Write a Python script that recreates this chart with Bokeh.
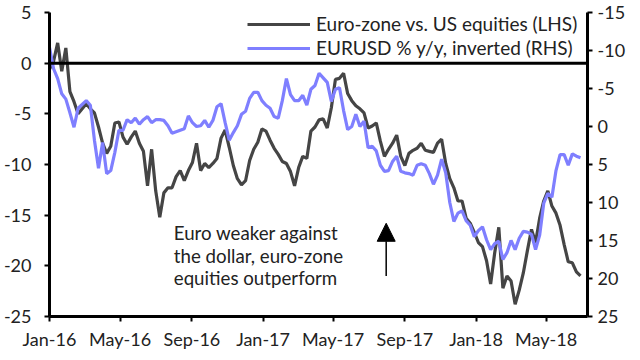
import pandas as pd
from bokeh.plotting import figure
from bokeh.models import (Range1d, LinearAxis, FixedTicker, Legend, LegendItem,
                          Arrow, NormalHead, Span)
from bokeh.core.properties import value
from bokeh.embed import file_html
from bokeh.resources import INLINE

FONT = "Lato"

# ---- data (weekly, starting 1 Jan 2016) ----
start_date = "2016-01-01"
equities_lhs = [
    -0.6, 0.2, 2.0, -0.8, 1.5, -2.8, -3.8, -5.0, -4.5, -4.0,
    -4.5, -4.9, -6.3, -7.9, -8.9, -8.2, -5.9, -5.8, -7.3, -8.0,
    -7.3, -6.7, -7.9, -8.7, -12.1, -8.5, -12.6, -15.2, -12.8, -12.3,
    -12.3, -11.2, -10.6, -11.6, -10.6, -9.8, -7.9, -10.6, -9.9, -10.3,
    -9.9, -9.4, -7.4, -6.6, -8.3, -10.1, -11.4, -12.0, -11.6, -9.6,
    -8.5, -7.8, -6.5, -6.7, -7.6, -8.4, -9.0, -9.7, -9.9, -10.7,
    -12.1, -10.3, -9.2, -9.4, -6.7, -6.3, -5.6, -5.5, -6.4, -4.4,
    -1.6, -1.5, -1.0, -3.0, -3.7, -4.2, -4.5, -4.9, -6.4, -6.2,
    -5.9, -7.7, -9.2, -8.5, -7.9, -7.1, -9.2, -10.1, -8.9, -8.6,
    -8.4, -7.9, -8.6, -8.7, -8.8, -7.9, -7.5, -9.9, -11.4, -12.3,
    -13.6, -13.6, -15.3, -15.8, -16.7, -17.7, -18.1, -19.5, -21.8, -18.7,
    -16.2, -22.2, -21.0, -21.5, -23.8, -22.4, -20.7, -18.5, -16.4, -17.7,
    -15.3, -13.6, -12.6, -14.1, -14.8, -16.0, -17.9, -19.6, -19.7, -20.6,
    -21.0,
]
eurusd_inv_rhs = [
    -10.4, -7.6, -6.3, -4.3, -3.6, -1.8, 0.1, -2.4, -2.9, -3.4,
    -2.8, 1.8, 5.5, 2.1, 6.2, 5.8, 3.4, 0.5, 0.5, -0.9,
    -0.5, -1.1, -0.3, -0.9, -1.3, -0.5, -0.9, -0.9, -0.8, -0.1,
    0.9, 0.7, 0.5, 0.3, -1.4, -0.5, 0.0, -0.1, -0.8, 0.1,
    -0.8, -2.6, -3.0, -0.5, 1.8, 0.8, -0.1, -1.6, -2.0, -3.7,
    -4.5, -4.5, -3.4, -2.8, -2.4, -1.3, -1.1, -3.4, -6.3, -4.2,
    -3.4, -3.4, -4.1, -2.8, -4.9, -5.4, -7.0, -6.4, -5.8, -3.3,
    -4.9, -5.1, -2.1, 0.4, 0.0, -1.6, 0.0, -0.7, 2.8, 2.6,
    3.2, 5.1, 5.9, 5.8, 4.6, 3.9, 5.9, 6.1, 6.2, 6.4,
    5.1, 4.9, 5.1, 6.2, 7.6, 6.4, 4.3, 6.1, 10.0, 12.5,
    11.4, 11.1, 12.4, 13.0, 14.5, 13.7, 13.2, 14.9, 16.2, 15.4,
    15.1, 17.5, 16.6, 15.0, 16.2, 14.7, 13.8, 13.9, 14.2, 16.2,
    14.3, 10.1, 8.8, 9.3, 5.8, 3.7, 3.7, 5.1, 3.6, 3.9,
    4.1,
]
series_labels = ["Euro-zone vs. US equities (LHS)", "EURUSD % y/y, inverted (RHS)"]

x_start, x_end = "2016-01-01", "2018-07-11"
x_tick_dates = ["2016-01-01", "2016-05-01", "2016-09-01", "2017-01-01",
                "2017-05-01", "2017-09-01", "2018-01-01", "2018-05-01"]
x_tick_labels = ["Jan-16", "May-16", "Sep-16", "Jan-17", "May-17", "Sep-17",
                 "Jan-18", "May-18"]
lhs_ticks = [-25, -20, -15, -10, -5, 0, 5]
rhs_ticks = [-15, -10, -5, 0, 5, 10, 15, 20, 25]

annotation_lines = ["Euro weaker against", "the dollar, euro-zone",
                    "equities outperform"]
annotation_x = "2016-08-01"
annotation_y = [-16.8, -19.0, -21.2]
arrow_x = "2017-07-31"
arrow_from, arrow_to = -21.0, -15.8

# ---- figure ----
dates = pd.date_range(start_date, periods=len(equities_lhs), freq="7D")

p = figure(width=640, height=360, x_axis_type="datetime",
           x_range=Range1d(pd.Timestamp(x_start), pd.Timestamp(x_end)),
           y_range=Range1d(-25, 5),
           output_backend="svg", toolbar_location=None,
           min_border_left=47, min_border_right=53,
           min_border_top=12, min_border_bottom=44)
p.extra_y_ranges = {"rhs": Range1d(25, -15)}
p.outline_line_color = None
p.xgrid.visible = False
p.ygrid.visible = False
p.background_fill_color = "white"

def ms(d):
    return pd.Timestamp(d).value // 10**6

tick_ms = [ms(d) for d in x_tick_dates]

def style_axis(ax, standoff):
    ax.axis_line_color = "black"
    ax.axis_line_width = 3
    ax.major_tick_line_color = "black"
    ax.major_tick_line_width = 2
    ax.major_tick_out = 5
    ax.major_tick_in = 0
    ax.minor_tick_line_color = None
    ax.major_label_text_font = FONT
    ax.major_label_text_font_size = "18px"
    ax.major_label_text_color = "#222222"
    ax.major_label_standoff = standoff

xa = p.xaxis[0]
xa.ticker = FixedTicker(ticks=tick_ms)
xa.major_label_overrides = {t: l for t, l in zip(tick_ms, x_tick_labels)}
style_axis(xa, 6)

ya = p.yaxis[0]
ya.ticker = FixedTicker(ticks=lhs_ticks)
ya.major_label_overrides = {t: str(t) for t in lhs_ticks}
style_axis(ya, 13)

ra = LinearAxis(y_range_name="rhs", ticker=FixedTicker(ticks=rhs_ticks))
ra.major_label_overrides = {t: str(t) for t in rhs_ticks}
style_axis(ra, 5)
p.add_layout(ra, "right")

p.add_layout(Span(location=0, dimension="width", line_color="black",
                  line_width=3))

r_eq = p.line(dates, equities_lhs, line_color="#454545", line_width=3.2)
r_fx = p.line(dates, eurusd_inv_rhs, line_color="#7f7fff", line_width=3.2,
              y_range_name="rhs")

legend = Legend(items=[LegendItem(label=series_labels[0], renderers=[r_eq]),
                       LegendItem(label=series_labels[1], renderers=[r_fx])],
                location=(198, 257))
legend.border_line_color = None
legend.background_fill_alpha = 0
legend.padding = 0
legend.margin = 0
legend.spacing = 1
legend.glyph_width = 63
legend.glyph_height = 22
legend.label_height = 22
legend.label_standoff = 6
legend.label_text_font = FONT
legend.label_text_font_size = "19px"
legend.label_text_color = "#222222"
p.add_layout(legend)

p.text(x=[pd.Timestamp(annotation_x)] * len(annotation_lines), y=annotation_y,
       text=annotation_lines, text_font=value(FONT), text_font_size="18.7px",
       text_color="#222222", text_baseline="middle", text_align="left")

p.add_layout(Arrow(end=NormalHead(size=18, fill_color="black",
                                  line_color="black"),
                   x_start=ms(arrow_x), y_start=arrow_from,
                   x_end=ms(arrow_x), y_end=arrow_to,
                   line_color="black", line_width=1.5))

open("out.html", "w").write(file_html(p, INLINE))
